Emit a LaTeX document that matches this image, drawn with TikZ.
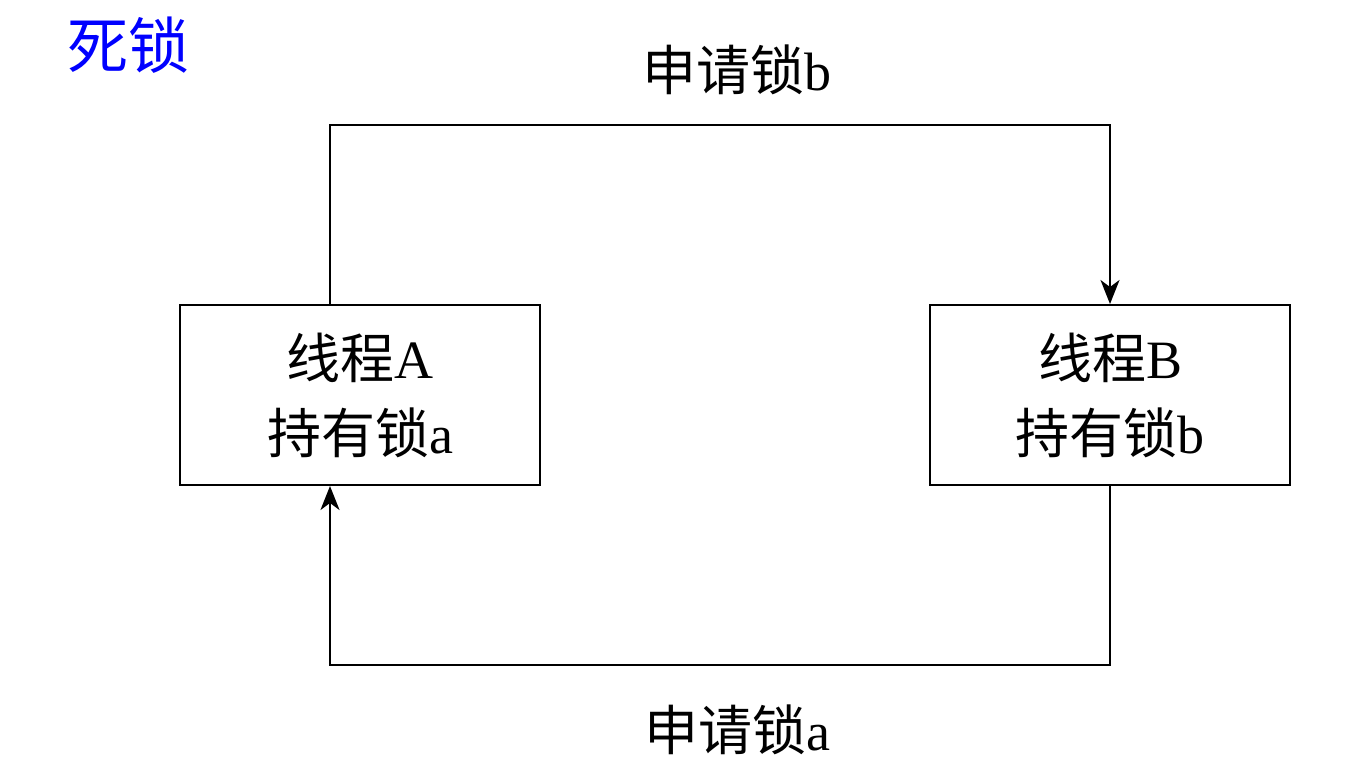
\documentclass[tikz,border=0pt]{standalone}
\usepackage{fontspec}
\setmainfont{Liberation Serif}
\newfontfamily\cjk{Noto Sans CJK SC}
\usetikzlibrary{arrows.meta}
\begin{document}
\begin{tikzpicture}[x=1pt,y=-1pt,
  box/.style={draw=black,line width=2pt,minimum width=360pt,minimum height=180pt,align=center,inner sep=0pt,font=\fontsize{54}{75}\selectfont},
  lbl/.style={font=\fontsize{54}{60}\selectfont,inner sep=0pt},
  conn/.style={draw=black,line width=2pt,-{Stealth[length=24pt,width=19pt,inset=7pt]}}]
\useasboundingbox (0,0) rectangle (1368,783);
\node[font=\fontsize{61}{66}\selectfont,text=blue,inner sep=0pt] (title) at (128,45) {\cjk 死锁};
\node[box] (A) at (360,395) {{\cjk 线程}A\\{\cjk 持有锁}a};
\node[box] (B) at (1110,395) {{\cjk 线程}B\\{\cjk 持有锁}b};
\coordinate (t1) at (330,125);
\coordinate (t2) at (1110,125);
\coordinate (b1) at (1110,665);
\coordinate (b2) at (330,665);
\draw[conn] (A.north -| t1) -- (t1) -- (t2) -- (B.north);
\draw[conn] (B.south) -- (b1) -- (b2) -- (A.south -| b2);
\node[lbl] (lb) at (737,70) {{\cjk 申请锁}b};
\node[lbl] (la) at (737,730) {{\cjk 申请锁}a};
\end{tikzpicture}
\end{document}
